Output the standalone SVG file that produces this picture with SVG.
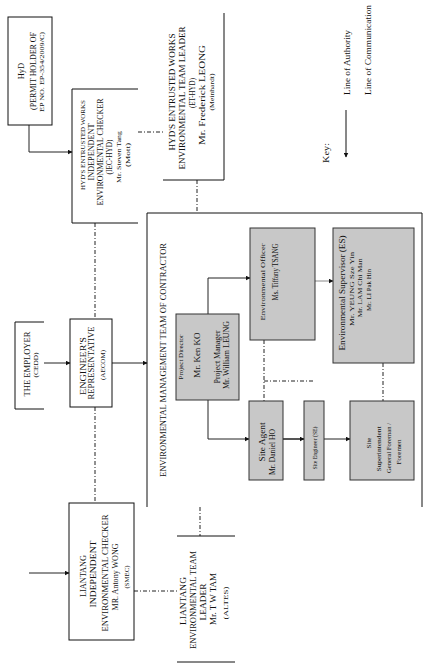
<svg xmlns="http://www.w3.org/2000/svg" width="428" height="668" viewBox="0 0 428 668">
<defs>
<marker id="ah" viewBox="0 0 10 10" refX="9" refY="5" markerWidth="5" markerHeight="5" orient="auto" markerUnits="userSpaceOnUse">
<path d="M0,0 L10,5 L0,10 z" fill="#111"/>
</marker>
<style>
.ln{fill:none;stroke:#111;stroke-width:1}
.ar{fill:none;stroke:#222;stroke-width:1;marker-end:url(#ah)}
.dd{fill:none;stroke:#222;stroke-width:1;stroke-dasharray:4,2,1,2}
.gb{fill:#c8c8c8;stroke:#333;stroke-width:1}
text{font-family:"Liberation Serif","Times New Roman",serif;fill:#111;text-anchor:middle}
.s9{font-size:8.5px}.s8{font-size:8px}.s7{font-size:7px}.s6{font-size:6px}
</style>
</defs>
<rect width="428" height="668" fill="#fff"/>

<g id="connectors">
<path class="ar" d="M29,125 V152 H72"/>
<path class="dd" d="M138,132 H163"/>
<path class="dd" d="M197,180 V213"/>
<path class="dd" d="M95,223 V319 M95,407 V503"/>
<path class="ar" d="M44,363 H70"/>
<path class="ar" d="M112,363 H147"/>
<path class="ar" d="M29,573 H69"/>
<path class="dd" d="M134,591 H177"/>
<path class="dd" d="M200,507 V536"/>
<path class="ar" d="M208,314 V278 H250"/>
<path class="ar" d="M208,400 V439 H249"/>
<path class="ar" d="M283,439 H304" style="stroke:#555;stroke-width:2"/>
<path class="ar" d="M324,439 H350"/>
<path class="ar" d="M315,281 H333" style="stroke:#888"/>
<path class="dd" d="M264,340 V401 M264,381 H314 M383,363 V401"/>
</g>

<g id="hyd">
<rect class="ln" x="8" y="17" width="44" height="108"/>
<g transform="rotate(-90)" lengthAdjust="spacingAndGlyphs">
<text class="s9" x="-71" y="24">HyD</text>
<text class="s8" x="-71" y="36" textLength="78" lengthAdjust="spacingAndGlyphs">(PERMIT HOLDER OF</text>
<text class="s7" x="-72" y="44" textLength="80" lengthAdjust="spacingAndGlyphs">EP NO. EP-354/2009/C)</text>
</g>
</g>

<g id="iec-hyd">
<path class="ln" d="M138,89 H72 V223 H138"/>
<g transform="rotate(-90)">
<text class="s6" x="-145" y="85" textLength="90" lengthAdjust="spacingAndGlyphs">HYD'S ENTRUSTED WORKS</text>
<text class="s8" x="-152" y="94" textLength="57" lengthAdjust="spacingAndGlyphs">INDEPENDENT</text>
<text class="s8" x="-152" y="103" textLength="107" lengthAdjust="spacingAndGlyphs">ENVIRONMENTAL CHECKER</text>
<text class="s8" x="-157" y="112" textLength="35" lengthAdjust="spacingAndGlyphs">(IEC-HYD)</text>
<text class="s7" x="-157" y="121" textLength="52" lengthAdjust="spacingAndGlyphs">Mr. Steven Tang</text>
<text class="s7" x="-155" y="130" textLength="24" lengthAdjust="spacingAndGlyphs">(Mott)</text>
</g>
</g>

<g id="et-hyd">
<path class="ln" d="M224,13 V180 H163"/>
<g transform="rotate(-90)">
<text class="s9" x="-92" y="175" textLength="117" lengthAdjust="spacingAndGlyphs">HYD'S ENTRUSTED WORKS</text>
<text class="s9" x="-98" y="185" textLength="143" lengthAdjust="spacingAndGlyphs">ENVIRONMENTAL TEAM LEADER</text>
<text class="s8" x="-93" y="195" textLength="30" lengthAdjust="spacingAndGlyphs">(ET-HYD)</text>
<text class="s8" x="-95" y="205" textLength="100" lengthAdjust="spacingAndGlyphs">Mr. Frederick LEONG</text>
<text class="s7" x="-92" y="214" textLength="37" lengthAdjust="spacingAndGlyphs">(Meinhardt)</text>
</g>
</g>

<g id="key">
<line class="ln" x1="346" y1="110" x2="346" y2="157" style="marker-end:url(#ah)"/>
<g transform="rotate(-90)">
<text class="s8" x="-153" y="329" textLength="20" lengthAdjust="spacingAndGlyphs">Key:</text>
<text class="s9" x="-95" y="350" style="text-anchor:start" textLength="65" lengthAdjust="spacingAndGlyphs">Line of Authority</text>
<text class="s9" x="-95" y="371" style="text-anchor:start" textLength="90" lengthAdjust="spacingAndGlyphs">Line of Communication</text>
</g>
</g>

<g id="employer">
<path class="ln" d="M44,322 H15 V409 H44"/>
<g transform="rotate(-90)">
<text class="s8" x="-364" y="30" textLength="65" lengthAdjust="spacingAndGlyphs">THE EMPLOYER</text>
<text class="s7" x="-365" y="38" textLength="25" lengthAdjust="spacingAndGlyphs">(CEDD)</text>
</g>
</g>

<g id="er">
<rect class="ln" x="70" y="319" width="42" height="88"/>
<g transform="rotate(-90)">
<text class="s8" x="-366" y="86" textLength="58" lengthAdjust="spacingAndGlyphs">ENGINEER'S</text>
<text class="s8" x="-363" y="94" textLength="73" lengthAdjust="spacingAndGlyphs">REPRESENTATIVE</text>
<text class="s7" x="-365" y="105" textLength="30" lengthAdjust="spacingAndGlyphs">(AECOM)</text>
</g>
</g>

<g id="contractor">
<path class="ln" d="M147,507 V213 H422 V507"/>
<g transform="rotate(-90)">
<text class="s8" x="-360" y="166" textLength="234" lengthAdjust="spacingAndGlyphs">ENVIRONMENTAL MANAGEMENT TEAM OF CONTRACTOR</text>
</g>
</g>

<g id="pd">
<rect class="gb" x="176" y="314" width="63" height="86"/>
<g transform="rotate(-90)">
<text class="s7" x="-357" y="183">Project Director</text>
<text style="font-size:9px" x="-355" y="200">Mr. Ken KO</text>
<text class="s8" x="-357" y="220">Project Manager</text>
<text class="s8" x="-355" y="229">Mr. William LEUNG</text>
</g>
</g>

<g id="eo">
<rect class="gb" x="250" y="228" width="65" height="112"/>
<g transform="rotate(-90)">
<text class="s7" x="-282" y="265" textLength="77" lengthAdjust="spacingAndGlyphs">Environmental Officer</text>
<text class="s8" x="-272" y="278" textLength="57" lengthAdjust="spacingAndGlyphs">Ms. Tiffany TSANG</text>
</g>
</g>

<g id="es">
<rect class="gb" x="333" y="228" width="81" height="135"/>
<g transform="rotate(-90)">
<text class="s8" x="-293" y="345" textLength="115" lengthAdjust="spacingAndGlyphs">Environmental Supervisor (ES)</text>
<text class="s7" x="-289" y="354" textLength="74" lengthAdjust="spacingAndGlyphs">Mr. YEUNG Sze Yin</text>
<text class="s7" x="-288" y="362" textLength="59" lengthAdjust="spacingAndGlyphs">Mr. LAM Chi Man</text>
<text class="s7" x="-290" y="371" textLength="42" lengthAdjust="spacingAndGlyphs">Mr. LI Pak Hin</text>
</g>
</g>

<g id="site-agent">
<rect class="gb" x="249" y="401" width="34" height="79"/>
<g transform="rotate(-90)">
<text class="s8" x="-442" y="265" textLength="39" lengthAdjust="spacingAndGlyphs">Site Agent</text>
<text class="s8" x="-452" y="275" textLength="46" lengthAdjust="spacingAndGlyphs">Mr. Daniel HO</text>
</g>
</g>

<g id="site-engineer">
<rect class="gb" x="304" y="401" width="20" height="79"/>
<g transform="rotate(-90)">
<text class="s6" x="-448" y="317" textLength="43" lengthAdjust="spacingAndGlyphs">Site Engineer (SE)</text>
</g>
</g>

<g id="site-superintendent">
<rect class="gb" x="350" y="401" width="64" height="79"/>
<g transform="rotate(-90)">
<text class="s7" x="-443" y="371">Site</text>
<text class="s7" x="-449" y="381" textLength="45" lengthAdjust="spacingAndGlyphs">Superintendent</text>
<text class="s7" x="-448" y="391" textLength="50" lengthAdjust="spacingAndGlyphs">General Foreman /</text>
<text class="s7" x="-452" y="401">Foremen</text>
</g>
</g>

<g id="liantang-iec">
<rect class="ln" x="69" y="503" width="65" height="137"/>
<g transform="rotate(-90)">
<text class="s8" x="-576" y="86" textLength="42" lengthAdjust="spacingAndGlyphs">LIANTANG</text>
<text class="s8" x="-574" y="96" textLength="67" lengthAdjust="spacingAndGlyphs">INDEPENDENT</text>
<text class="s8" x="-573" y="108" textLength="117" lengthAdjust="spacingAndGlyphs">ENVIRONMENTAL CHECKER</text>
<text class="s8" x="-577" y="118" textLength="67" lengthAdjust="spacingAndGlyphs">MR. Antony WONG</text>
<text class="s7" x="-577" y="129" textLength="23" lengthAdjust="spacingAndGlyphs">(SMEC)</text>
</g>
</g>

<g id="liantang-et">
<path class="ln" d="M177,536 H235 M177,662 H235"/>
<g transform="rotate(-90)">
<text class="s8" x="-601" y="186" textLength="48" lengthAdjust="spacingAndGlyphs">LIANTANG</text>
<text class="s8" x="-600" y="196" textLength="98" lengthAdjust="spacingAndGlyphs">ENVIRONMENTAL TEAM</text>
<text class="s8" x="-602" y="206" textLength="37" lengthAdjust="spacingAndGlyphs">LEADER</text>
<text class="s8" x="-599" y="216" textLength="52" lengthAdjust="spacingAndGlyphs">Mr. T W TAM</text>
<text class="s7" x="-603" y="228" textLength="33" lengthAdjust="spacingAndGlyphs">(ALTES)</text>
</g>
</g>
</svg>
